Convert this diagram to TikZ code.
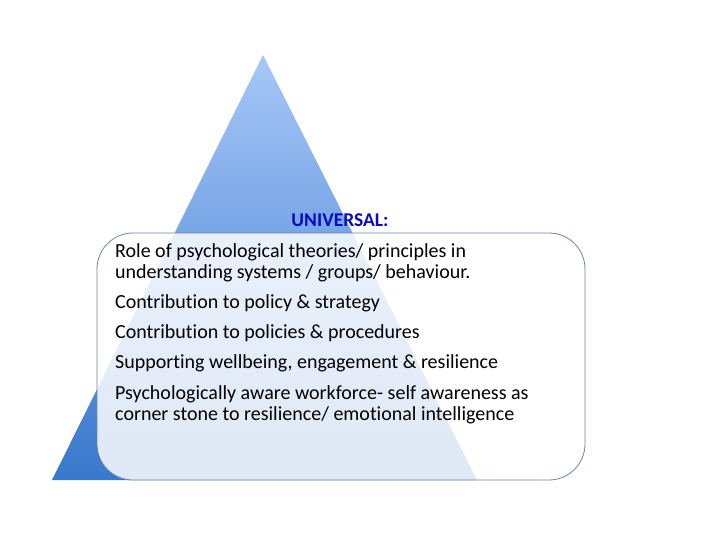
\documentclass[tikz,border=0pt]{standalone}
\usepackage{fontspec}
\setmainfont[Ligatures=NoCommon]{Carlito}
\begin{document}
\begin{tikzpicture}[x=1pt,y=-1pt,
  body/.style={anchor=base west,inner sep=0pt,font=\fontsize{20}{22}\selectfont,text=black},
  boxstyle/.style={draw={rgb,255:red,105;green,135;blue,170},line width=0.8pt,fill=white,fill opacity=0.84,rounded corners=36pt}]
\useasboundingbox (0,0) rectangle (720,540);
\fill[white] (0,0) rectangle (720,540);
\shade[top color={rgb,255:red,166;green,199;blue,248},bottom color={rgb,255:red,56;green,120;blue,204}]
  (263,55) -- (477,480) -- (52,480) -- cycle;
\node[inner sep=0pt,anchor=base,font=\fontsize{19.5}{22}\selectfont\bfseries,text={rgb,255:red,10;green,10;blue,190}] (title) at (340,226) {UNIVERSAL:};
\draw[boxstyle] (97,233) rectangle (585,480);
\node[body] (t1) at (115,258) {Role of psychological theories/ principles in};
\node[body] (t2) at (115,278) {understanding systems / groups/ behaviour.};
\node[body] (t3) at (115,308) {Contribution to policy \& strategy};
\node[body] (t4) at (115,338) {Contribution to policies \& procedures};
\node[body] (t5) at (115,368) {Supporting wellbeing, engagement \& resilience};
\node[body] (t6) at (115,399) {Psychologically aware workforce- self awareness as};
\node[body] (t7) at (115,420) {corner stone to resilience/ emotional intelligence};
\end{tikzpicture}
\end{document}
